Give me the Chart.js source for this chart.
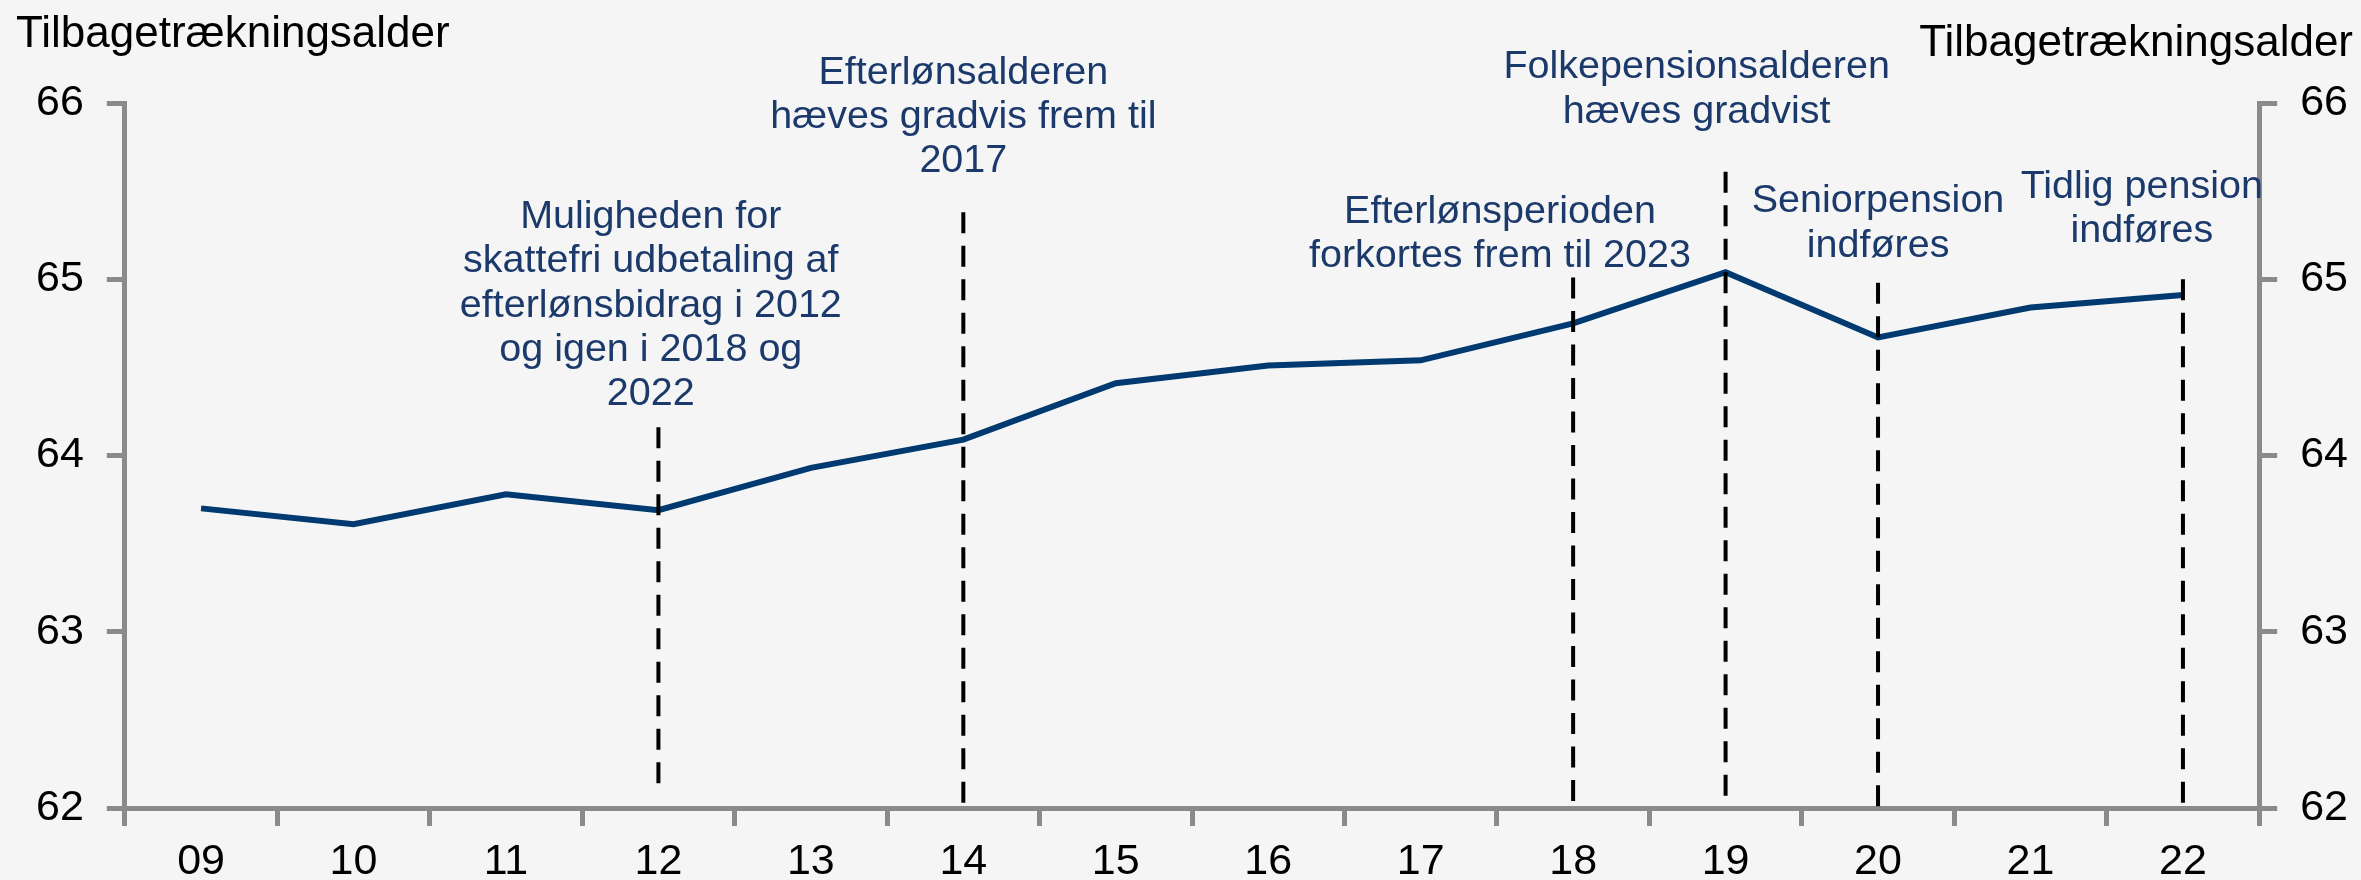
<!DOCTYPE html>
<html>
<head>
<meta charset="utf-8">
<script src="https://cdn.jsdelivr.net/npm/chart.js@4"></script>
<style>
  html, body { margin: 0; padding: 0; background: #f5f5f5; }
  #wrap { width: 2361px; height: 880px; }
</style>
</head>
<body>
<div id="wrap"><canvas id="c" width="2361" height="880"></canvas></div>
<script>
// ---- data ----
const categories = ['09','10','11','12','13','14','15','16','17','18','19','20','21','22'];
const retirementAge = [63.70, 63.61, 63.78, 63.69, 63.93, 64.09, 64.41, 64.51, 64.54, 64.75, 65.04, 64.67, 64.84, 64.91];

const yMin = 62;
const yMax = 66;
const yStep = 1;

const axisTitle = 'Tilbagetrækningsalder';

// vertical dashed event markers (category, top value, bottom value)
const eventCategory = ['12', '14', '18', '19', '20', '22'];
const eventTop      = [64.16, 65.38, 65.01, 65.61, 64.98, 65.00];
const eventBottom   = [62.10, 62.00, 62.00, 62.00, 62.00, 61.96];

// annotation texts, anchored at (category index, value of first baseline)
const annotationText = [
  ['Muligheden for', 'skattefri udbetaling af', 'efterlønsbidrag i 2012', 'og igen i 2018 og', '2022'],
  ['Efterlønsalderen', 'hæves gradvis frem til', '2017'],
  ['Efterlønsperioden', 'forkortes frem til 2023'],
  ['Folkepensionsalderen', 'hæves gradvist'],
  ['Seniorpension', 'indføres'],
  ['Tidlig pension', 'indføres']
];
const annotationX = [2.95, 5.00, 8.52, 9.81, 11.00, 12.73];
const annotationY = [65.29, 66.11, 65.32, 66.14, 65.38, 65.46];

// ---- styles ----
const FONT = "'Liberation Sans', Arial, sans-serif";
const AXIS_GRAY = '#8a8a8a';
const LINE_NAVY = '#003a70';
const TEXT_NAVY = '#1b3a6b';

Chart.defaults.font.family = FONT;

const eventDatasets = eventCategory.map((cat, i) => ({
  data: [{ x: cat, y: eventTop[i] }, { x: cat, y: eventBottom[i] }],
  borderColor: '#000000',
  borderWidth: 4,
  borderDash: [21, 12.5],
  pointRadius: 0,
  tension: 0,
  clip: false,
  order: 0
}));

const textPlugin = {
  id: 'texts',
  afterDraw(chart) {
    const ctx = chart.ctx;
    const xs = chart.scales.x, ys = chart.scales.y;
    ctx.save();
    // axis titles
    ctx.fillStyle = '#000000';
    ctx.font = '44px ' + FONT;
    ctx.textBaseline = 'alphabetic';
    ctx.textAlign = 'left';
    ctx.fillText(axisTitle, 16, 47);
    ctx.textAlign = 'right';
    ctx.fillText(axisTitle, 2353, 56);
    // annotations
    ctx.fillStyle = TEXT_NAVY;
    ctx.font = '39.5px ' + FONT;
    ctx.textAlign = 'center';
    annotationText.forEach((lines, i) => {
      const px = xs.getPixelForValue(annotationX[i]);
      const py = ys.getPixelForValue(annotationY[i]);
      lines.forEach((t, k) => ctx.fillText(t, px, py + k * 44.3));
    });
    ctx.restore();
  }
};

const tickFont = { size: 43, family: FONT, lineHeight: 1.0 };

new Chart(document.getElementById('c'), {
  type: 'line',
  data: {
    labels: categories,
    datasets: [
      {
        data: retirementAge,
        borderColor: LINE_NAVY,
        borderWidth: 6,
        pointRadius: 0,
        tension: 0,
        order: 1
      },
      ...eventDatasets
    ]
  },
  options: {
    responsive: false,
    animation: false,
    devicePixelRatio: 1,
    layout: { padding: { left: 13, right: -10, top: 103, bottom: -19 } },
    plugins: {
      legend: { display: false },
      tooltip: { enabled: false },
      title: { display: false }
    },
    scales: {
      x: {
        type: 'category',
        offset: true,
        grid: { offset: true, drawOnChartArea: false, drawTicks: true, tickLength: 18, color: AXIS_GRAY, lineWidth: 5 },
        border: { display: true, color: AXIS_GRAY, width: 5 },
        ticks: { font: tickFont, color: '#000000', padding: 15, maxRotation: 0, autoSkip: false }
      },
      y: {
        position: 'left',
        min: yMin, max: yMax,
        grid: { drawOnChartArea: false, drawTicks: true, tickLength: 18, color: AXIS_GRAY, lineWidth: 5 },
        border: { display: true, color: AXIS_GRAY, width: 5 },
        ticks: { stepSize: yStep, font: tickFont, color: '#000000', padding: 23 }
      },
      y2: {
        position: 'right',
        min: yMin, max: yMax,
        grid: { drawOnChartArea: false, drawTicks: true, tickLength: 18, color: AXIS_GRAY, lineWidth: 5 },
        border: { display: true, color: AXIS_GRAY, width: 5 },
        ticks: { stepSize: yStep, font: tickFont, color: '#000000', padding: 23 }
      }
    }
  },
  plugins: [textPlugin]
});
</script>
</body>
</html>
